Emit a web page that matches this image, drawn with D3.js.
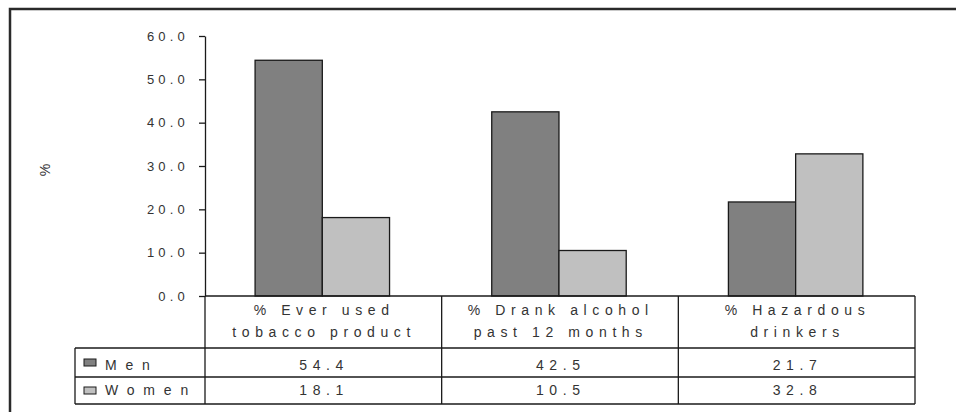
<!DOCTYPE html>
<html>
<head>
<meta charset="utf-8">
<script src="https://cdn.jsdelivr.net/npm/d3@7"></script>
<style>
  html, body { margin: 0; padding: 0; background: #fff; }
  svg { display: block; }
  text { font-family: Arial, "Liberation Sans", sans-serif; fill: #333; }
</style>
</head>
<body>
<svg id="chart" width="956" height="412"></svg>
<script>
// Survey results by sex
const categories = [
  ["% Ever used", "tobacco product"],
  ["% Drank alcohol", "past 12 months"],
  ["% Hazardous", "drinkers"]
];
const seriesNames = ["Men", "Women"];
const menValues = [54.4, 42.5, 21.7];
const womenValues = [18.1, 10.5, 32.8];
const yTicks = [0, 10, 20, 30, 40, 50, 60];

const seriesValues = [menValues, womenValues];
const colors = ["#808080", "#c0c0c0"];

const svg = d3.select("#chart");

// outer frame (left and top edges)
svg.append("path")
  .attr("d", "M10,412 V9 H956")
  .attr("fill", "none")
  .attr("stroke", "#2a2a2a")
  .attr("stroke-width", 2.5);

const plotLeft = 205, plotRight = 915, plotTop = 36, plotBottom = 296;
const rowCat = 348, rowMen = 377, rowWomen = 404, tableLeft = 75;

const y = d3.scaleLinear().domain([0, 60]).range([plotBottom, plotTop]);
const x = d3.scaleBand()
  .domain(d3.range(categories.length))
  .range([plotLeft, plotRight])
  .padding(0);
const inner = d3.scaleBand()
  .domain(seriesNames)
  .range([0, x.bandwidth()])
  .paddingInner(0)
  .paddingOuter(0.76)
  .align(0.49);

// bars
const g = svg.append("g");
categories.forEach((c, i) => {
  seriesNames.forEach((s, k) => {
    const v = seriesValues[k][i];
    g.append("rect")
      .attr("x", x(i) + inner(s))
      .attr("y", y(v))
      .attr("width", inner.bandwidth())
      .attr("height", y(0) - y(v))
      .attr("fill", colors[k])
      .attr("stroke", "#1a1a1a")
      .attr("stroke-width", 1.3);
  });
});

// y axis
const tickSpacing = 4.2;
const yAxis = d3.axisLeft(y)
  .tickValues(yTicks)
  .tickFormat(d3.format(".1f"))
  .tickSize(6)
  .tickSizeOuter(0)
  .tickPadding(10);
const ax = svg.append("g")
  .attr("transform", `translate(${plotLeft},0)`)
  .call(yAxis);
ax.select(".domain").attr("stroke", "#1a1a1a").attr("stroke-width", 1.3);
ax.selectAll(".tick line").attr("stroke", "#1a1a1a").attr("stroke-width", 1.3);
ax.selectAll(".tick text")
  .attr("font-size", 13)
  .attr("fill", "#333")
  .attr("font-family", "Arial, 'Liberation Sans', sans-serif")
  .style("letter-spacing", tickSpacing + "px")
  .attr("dx", 0);

// y title
svg.append("text")
  .attr("transform", "translate(50,170) rotate(-90)")
  .attr("text-anchor", "middle")
  .attr("font-size", 14)
  .text("%");

// data table grid
const grid = svg.append("g")
  .attr("stroke", "#1a1a1a")
  .attr("stroke-width", 1.3)
  .attr("fill", "none");
function hline(y0, x0, x1) {
  grid.append("line").attr("x1", x0).attr("x2", x1).attr("y1", y0).attr("y2", y0);
}
function vline(x0, y0, y1) {
  grid.append("line").attr("x1", x0).attr("x2", x0).attr("y1", y0).attr("y2", y1);
}
hline(plotBottom, plotLeft, plotRight);
hline(rowCat, tableLeft, plotRight);
hline(rowMen, tableLeft, plotRight);
hline(rowWomen, tableLeft, plotRight);
vline(tableLeft, rowCat, rowWomen);
vline(plotLeft, plotBottom, rowWomen);
d3.range(1, categories.length).forEach(i => vline(x(i), plotBottom, rowWomen));
vline(plotRight, plotBottom, rowWomen);

// category labels
const catSpacing = 5.6;
categories.forEach((lines, i) => {
  const cx = x(i) + x.bandwidth() / 2 + catSpacing / 2 - 2;
  lines.forEach((ln, j) => {
    svg.append("text")
      .attr("x", cx)
      .attr("y", 315 + j * 22)
      .attr("text-anchor", "middle")
      .attr("font-size", 14)
      .style("letter-spacing", catSpacing + "px")
      .text(ln);
  });
});

// table rows: legend keys and values
const rowBaselines = [370, 395];
const rowBounds = [[rowCat, rowMen], [rowMen, rowWomen]];
const valSpacing = 5.6;
seriesNames.forEach((s, k) => {
  const mid = (rowBounds[k][0] + rowBounds[k][1]) / 2;
  svg.append("rect")
    .attr("x", 84)
    .attr("y", mid - 3.5)
    .attr("width", 12)
    .attr("height", 7)
    .attr("fill", colors[k])
    .attr("stroke", "#1a1a1a")
    .attr("stroke-width", 1);
  svg.append("text")
    .attr("x", 105)
    .attr("y", rowBaselines[k])
    .attr("font-size", 14)
    .style("letter-spacing", "8.8px")
    .text(s);
  seriesValues[k].forEach((v, i) => {
    svg.append("text")
      .attr("x", x(i) + x.bandwidth() / 2 + valSpacing / 2 - 2)
      .attr("y", rowBaselines[k])
      .attr("text-anchor", "middle")
      .attr("font-size", 14)
      .style("letter-spacing", valSpacing + "px")
      .text(v.toFixed(1));
  });
});
</script>
</body>
</html>
